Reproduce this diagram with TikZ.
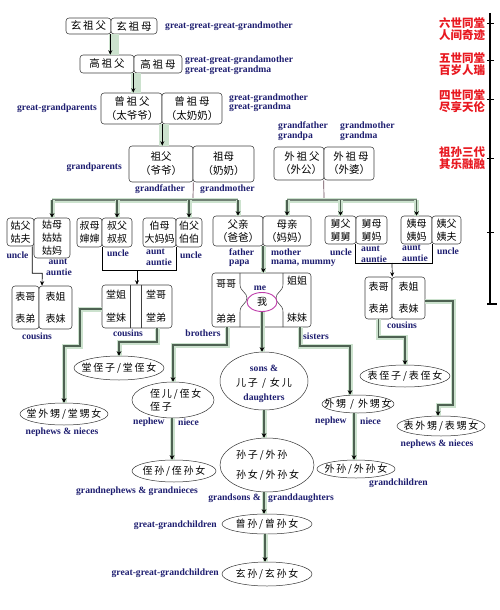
\documentclass[tikz,border=0pt]{standalone}
\usepackage{fontspec}
\setmainfont{Liberation Serif}
\newfontfamily\cjk{Noto Sans CJK SC}
\newfontfamily\cjkw{Noto Sans CJK SC}[LetterSpace=18]
\usetikzlibrary{arrows.meta,shapes.geometric}
\definecolor{navy}{RGB}{30,30,112}
\definecolor{redlbl}{RGB}{232,24,32}
\definecolor{band}{RGB}{204,226,206}
\definecolor{connc}{RGB}{78,98,82}
\definecolor{meoval}{RGB}{190,60,170}
\tikzset{
  box/.style={draw=black!75, rounded corners=3pt, line width=0.55pt, fill=white, inner sep=0pt, align=center},
  oval/.style={draw=black!80, ellipse, line width=0.5pt, inner sep=0pt},
  en/.style={font=\bfseries\fontsize{9.6}{10}\selectfont, text=navy, inner sep=0pt},
  zh/.style={font=\cjk\fontsize{10}{13}\selectfont, inner sep=0pt, align=center},
  zhw/.style={font=\cjkw\fontsize{10.5}{13}\selectfont, inner sep=0pt, align=center},
  zhe/.style={font=\cjkw\fontsize{10}{13}\selectfont, inner sep=0pt},
  rd/.style={font=\cjk\bfseries\fontsize{11.5}{10.5}\selectfont, text=redlbl, inner sep=0pt, align=center},
  tip/.style={-{Stealth[length=4.5pt,width=4pt]}},
  thinc/.style={draw=black, line width=0.7pt},
  thinarr/.style={thinc, tip},
  bandline/.style={draw=band, line width=10pt},
  conn/.style={draw=connc, line width=1.7pt, preaction={draw=band, line width=5pt, -}, -{Stealth[length=4.5pt,width=4.5pt,color=black]}},
  bar/.style={draw=connc!80, line width=2.2pt, preaction={draw=band, line width=5pt}},
}
\begin{document}
\begin{tikzpicture}[x=1pt,y=-1pt]
\useasboundingbox (0,0) rectangle (499,610);

% ---------- ancestors ----------
\node[box, zhw, minimum width=45pt, minimum height=16pt] (xzf) at (88.5,26) {玄祖父};
\node[box, zhw, minimum width=46pt, minimum height=16pt] (xzm) at (134,26) {玄祖母};
\node[box, zhw, minimum width=54pt, minimum height=18pt] (gzf) at (107,64) {高祖父};
\node[box, zhw, minimum width=48pt, minimum height=18pt] (gzm) at (158,64) {高祖母};
\node[box, minimum width=61pt, minimum height=31pt] (czf) at (131.5,108.5) {};
\node[zhw] (czft) at (132,101) {曾祖父};
\node[zh, font=\cjk\fontsize{10.5}{13}\selectfont] (czfp) at (132,116) {（太爷爷）};
\node[box, minimum width=60pt, minimum height=31pt] (czm) at (192,108.5) {};
\node[zhw] (czmt) at (192,101) {曾祖母};
\node[zh, font=\cjk\fontsize{10.5}{13}\selectfont] (czmp) at (192,116) {（太奶奶）};
\node[box, font=\cjk\fontsize{10.5}{14}\selectfont, minimum width=64pt, minimum height=36pt] (zf) at (161,164) {祖父\\（爷爷）};
\node[box, font=\cjk\fontsize{10.5}{14}\selectfont, minimum width=61pt, minimum height=36pt] (zm) at (223.5,164) {祖母\\（奶奶）};
\node[box, minimum width=50pt, minimum height=33pt] (wzf) at (299,163.5) {};
\node[zhw] (wzft) at (302,157) {外祖父};
\node[zh, font=\cjk\fontsize{10.5}{13}\selectfont] (wzfp) at (301,170) {（外公）};
\node[box, minimum width=50pt, minimum height=33pt] (wzm) at (349,163.5) {};
\node[zhw] (wzmt) at (351,157) {外祖母};
\node[zh, font=\cjk\fontsize{10.5}{13}\selectfont] (wzmp) at (349,170) {（外婆）};

% ---------- parents' generation ----------
\node[box, zh, minimum width=27pt, minimum height=28pt] (gf) at (20.5,232) {姑父\\姑夫};
\node[box, zh, minimum width=36pt, minimum height=40pt] (gm) at (52,238) {姑母\\姑姑\\姑妈};
\node[box, zh, minimum width=25pt, minimum height=29pt] (sm) at (89.5,232.5) {叔母\\婶婶};
\node[box, zh, minimum width=30pt, minimum height=29pt] (sf) at (117,232.5) {叔父\\叔叔};
\node[box, zh, minimum width=33pt, minimum height=29pt] (bm) at (159.5,232.5) {伯母\\大妈妈};
\node[box, zh, minimum width=26pt, minimum height=29pt] (bf) at (189,232.5) {伯父\\伯伯};
\node[box, font=\cjk\fontsize{10.5}{13}\selectfont, minimum width=50pt, minimum height=30pt] (fq) at (238,231) {父亲\\（爸爸）};
\node[box, font=\cjk\fontsize{10.5}{13}\selectfont, minimum width=48pt, minimum height=30pt] (mq) at (287,231) {母亲\\（妈妈）};
\node[box, zh, minimum width=31pt, minimum height=28pt] (jf) at (340.5,230) {舅父\\舅舅};
\node[box, zh, minimum width=31pt, minimum height=28pt] (jm) at (371.5,230) {舅母\\舅妈};
\node[box, zh, minimum width=31pt, minimum height=28pt] (ym) at (416.5,230) {姨母\\姨妈};
\node[box, zh, minimum width=29pt, minimum height=28pt] (yf) at (446.5,230) {姨父\\姨夫};

% ---------- own generation ----------
\node[box, zh, font=\cjk\fontsize{10}{22}\selectfont, minimum width=27pt, minimum height=43pt] (bgx) at (25.5,307.5) {表哥\\表弟};
\node[box, zh, font=\cjk\fontsize{10}{22}\selectfont, minimum width=33pt, minimum height=43pt] (bjx) at (55.5,307.5) {表姐\\表妹};
\node[box, minimum width=70pt, minimum height=43pt] (tang) at (137,306.5) {};
\draw[black!75, line width=0.55pt] (130,285) -- (130,328) (141,285) -- (141,328);
\node[zh, font=\cjk\fontsize{10}{23}\selectfont] (tj) at (116,306.5) {堂姐\\堂妹};
\node[zh, font=\cjk\fontsize{10}{23}\selectfont] (tg) at (156,306.5) {堂哥\\堂弟};
\node[box, minimum width=99pt, minimum height=54pt] (mebox) at (261.5,300) {};
\draw[black!75, line width=0.55pt] (240,273) -- (240,284) .. controls (240,292) and (247,292) .. (247,298) .. controls (247,304) and (240,304) .. (240,312) -- (240,327);
\draw[black!75, line width=0.55pt] (283,273) -- (283,284) .. controls (283,292) and (276,292) .. (276,298) .. controls (276,304) and (283,304) .. (283,312) -- (283,327);
\node[zh] (gg) at (226,284) {哥哥};
\node[zh] (dd) at (226,319) {弟弟};
\node[zh] (jj) at (297,281) {姐姐};
\node[zh] (mm) at (297,318) {妹妹};
\node[oval, draw=meoval, line width=0.9pt, minimum width=30pt, minimum height=19pt] (me) at (262,302) {};
\node[zh] (wo) at (me) {我};
\node[box, zh, font=\cjk\fontsize{10}{22}\selectfont, minimum width=27pt, minimum height=42pt] (bg2) at (378.5,298) {表哥\\表弟};
\node[box, zh, font=\cjk\fontsize{10}{22}\selectfont, minimum width=33pt, minimum height=42pt] (bj2) at (408.5,298) {表姐\\表妹};

% ---------- descendants ----------
\node[oval, minimum width=90pt, minimum height=24pt] (tzz) at (119,368) {};
\node[zhe] (tzzt) at (tzz) {堂侄子/堂侄女};
\node[oval, minimum width=88pt, minimum height=22pt] (txs) at (64,414) {};
\node[zhe] (txst) at (txs) {堂外甥/堂甥女};
\node[oval, minimum width=82pt, minimum height=36pt] (zr) at (173,400) {};
\node[zhe, anchor=west, align=left, font=\cjkw\fontsize{10}{13}\selectfont] (zrt) at (150,400) {侄儿/侄女\\侄子};
\node[oval, minimum width=88pt, minimum height=58pt] (sd) at (264,381) {};
\node[zhe] (sdt) at (264,383) {儿子 / 女儿};
\node[oval, minimum width=72pt, minimum height=18pt] (wsh) at (358,404) {};
\node[zhe] (wsht) at (wsh) {外甥 / 外甥女};
\node[oval, minimum width=90pt, minimum height=22pt] (btz) at (405,376) {};
\node[zhe] (btzt) at (btz) {表侄子/表侄女};
\node[oval, minimum width=88pt, minimum height=20pt] (bws) at (441,426) {};
\node[zhe] (bwst) at (bws) {表外甥/表甥女};
\node[oval, minimum width=84pt, minimum height=22pt] (zs) at (174,471) {};
\node[zhe] (zst) at (zs) {侄孙/侄孙女};
\node[oval, minimum width=94pt, minimum height=54pt] (sz) at (267,465) {};
\node[zhe, anchor=west, align=left, font=\cjkw\fontsize{10}{20}\selectfont] (szt) at (236,465) {孙子/外孙\\孙女/外孙女};
\node[oval, minimum width=78pt, minimum height=18pt] (wsn) at (356,469) {};
\node[zhe] (wsnt) at (wsn) {外孙/外孙女};
\node[oval, minimum width=90pt, minimum height=20pt] (cs) at (267,524) {};
\node[zhe] (cst) at (cs) {曾孙/曾孙女};
\node[oval, minimum width=90pt, minimum height=24pt] (xs) at (267,574) {};
\node[zhe] (xst) at (xs) {玄孙/玄孙女};

% ---------- English labels ----------
\node[en, anchor=west] (e1) at (165,26) {great-great-great-grandmother};
\node[en, anchor=west] (e2) at (185,60) {great-great-grandamother};
\node[en, anchor=west] (e3) at (185,70) {great-great-grandma};
\node[en, anchor=east] (e4) at (97,108) {great-grandparents};
\node[en, anchor=west] (e5) at (229,98) {great-grandmother};
\node[en, anchor=west] (e6) at (229,107) {great-grandma};
\node[en, anchor=east] (e7) at (122,167) {grandparents};
\node[en] (e8) at (160,189) {grandfather};
\node[en, anchor=west] (e9) at (200,189) {grandmother};
\node[en, anchor=west] (e10) at (278,126) {grandfather};
\node[en, anchor=west] (e11) at (278,136) {grandpa};
\node[en, anchor=west] (e12) at (340,126) {grandmother};
\node[en, anchor=west] (e13) at (340,136) {grandma};
\node[en] (e14) at (17.5,255) {uncle};
\node[en] (e15) at (58,262) {aunt};
\node[en] (e16) at (59,272) {auntie};
\node[en] (e17) at (118,253) {uncle};
\node[en, anchor=west] (e18) at (146,251.5) {aunt};
\node[en, anchor=west] (e19) at (146,262) {auntie};
\node[en] (e20) at (191,255) {uncle};
\node[en, anchor=west] (e21) at (229,252.5) {father};
\node[en, anchor=west] (e22) at (229,263) {papa};
\node[en, anchor=west] (e23) at (271,252.5) {mother};
\node[en, anchor=west] (e24) at (271,263) {mama, mummy};
\node[en] (e25) at (341,252) {uncle};
\node[en, anchor=west] (e26) at (361,248.5) {aunt};
\node[en, anchor=west] (e27) at (361,259) {auntie};
\node[en, anchor=west] (e28) at (402,248) {aunt};
\node[en, anchor=west] (e29) at (402,258.5) {auntie};
\node[en] (e30) at (448,251) {uncle};
\node[en] (e31) at (37,336) {cousins};
\node[en] (e32) at (128,333) {cousins};
\node[en] (e33) at (402,325) {cousins};
\node[en] (e34) at (260,288) {me};
\node[en] (e35) at (203,333) {brothers};
\node[en, anchor=west] (e36) at (303,336) {sisters};
\node[en] (e37) at (62,432) {nephews \& nieces};
\node[en, anchor=west] (e38) at (133,422) {nephew};
\node[en, anchor=west] (e39) at (178,422) {niece};
\node[en] (e40) at (264,368) {sons \&};
\node[en] (e41) at (264,398) {daughters};
\node[en, anchor=west] (e42) at (315,421) {nephew};
\node[en, anchor=west] (e43) at (360,421) {niece};
\node[en] (e44) at (437,444) {nephews \& nieces};
\node[en] (e45) at (137,491) {grandnephews \& grandnieces};
\node[en, anchor=west] (e46) at (369,483) {grandchildren};
\node[en, anchor=east] (e47) at (261,498) {grandsons \&};
\node[en, anchor=west] (e48) at (268,498) {granddaughters};
\node[en, anchor=east] (e49) at (217,525) {great-grandchildren};
\node[en, anchor=east] (e50) at (219,573) {great-great-grandchildren};

% ---------- generation scale ----------
\node[rd] (r1) at (462,29) {六世同堂\\人间奇迹};
\node[rd] (r2) at (462,64) {五世同堂\\百岁人瑞};
\node[rd] (r3) at (462,101) {四世同堂\\尽享天伦};
\node[rd] (r4) at (462,158) {祖孙三代\\其乐融融};
\coordinate (st) at (490,13);
\coordinate (sb) at (490,304);
\draw[line width=1.2pt] (st) -- (sb);
\foreach \t in {24,61,99,158,232} \draw[line width=1pt] (487,\t) -- (494,\t);
\draw[line width=1.2pt] (487,304) -- (497,304);

% ---------- connectors: ancestors ----------
\draw[bandline] ([xshift=3pt]xzf.south east) -- ([xshift=3pt]xzf.south east |- gzf.north);
\draw[thinarr] ([xshift=-1pt]xzf.south east) -- ([xshift=-1pt]xzf.south east |- gzf.north);
\draw[bandline] ([xshift=2pt]gzf.south east) -- ([xshift=2pt]gzf.south east |- czf.north);
\draw[thinarr] ([xshift=-1pt]gzf.south east) -- ([xshift=-1pt]gzf.south east |- czf.north);
\draw[bandline] ([xshift=2pt]czf.south east) -- ([xshift=2pt]czf.south east |- zf.north);
\draw[thinarr] (czf.south east) -- (czf.south east |- zf.north);

% paternal line
\coordinate (pb) at (193,200);
\draw[thinc, draw=black!70!magenta] (zf.south east) -- (pb);
\draw[bar] (gm.north |- pb) -- (fq.north |- pb);
\draw[conn] (gm.north |- pb) -- (gm.north);
\draw[conn] (sf.north |- pb) -- (sf.north);
\draw[conn] (bf.north |- pb) -- (bf.north);
\draw[conn] (fq.north |- pb) -- (fq.north);

% maternal line
\coordinate (mb) at (324,200);
\draw[thinc, draw=black!70!magenta] (wzm.south west) -- (mb);
\draw[bar] (mq.north |- mb) -- (ym.north |- mb);
\draw[conn] (mq.north |- mb) -- (mq.north);
\draw[conn] (jf.north |- mb) -- (jf.north);
\draw[conn] (ym.north |- mb) -- (ym.north);

% uncles and aunts to cousins
\draw[thinarr] ([xshift=-2pt]gf.south east) |- ++(10,27) -- ([xshift=-13.5pt]bjx.north);
\coordinate (tb) at (137,270);
\draw[thinc] (sm.south east) -- ++(0,23) -| (bm.south east);
\draw[thinarr] (tb) -- (tang.north);
\coordinate (bb) at (392,263);
\draw[thinc] (jm.south west) -- ++(0,19) -| (ym.south east);
\draw[thinarr] (bb) -- (bg2.north east);
\draw[conn] (fq.south east) -- (fq.south east |- mebox.north);

% ---------- connectors: descendants ----------
\draw[conn] ([yshift=-2.5pt]tang.west) -| (80,346) -| (txs.north);
\draw[conn] ([xshift=20pt]tang.south) -- ++(0,14) -| (tzz.north);
\draw[conn] ([xshift=-34.5pt]mebox.south) -- ++(0,18) -| (zr.north);
\draw[conn] (me.south) -- (me.south |- sd.north);
\draw[conn] ([xshift=38.5pt]mebox.south) -- ++(0,19) -| ([xshift=-8pt]wsh.north);
\draw[conn] (bg2.south) -- ++(0,18) -| (btz.north);
\draw[conn] ([yshift=-3pt]bj2.east) -| (453,405) -| ([xshift=-3pt]bws.north);
\draw[conn] ([xshift=-1pt]zr.south) -- ([xshift=-1pt]zr.south |- zs.north);
\draw[conn] (sd.south) -- (sd.south |- sz.north);
\draw[conn] ([xshift=-4pt]wsh.south) -- ([xshift=-4pt]wsh.south |- wsn.north);
\draw[conn, line width=1.4pt] ([xshift=-3pt]sz.south) -- ([xshift=-3pt]sz.south |- cs.north);
\draw[conn] ([xshift=-2pt]cs.south) -- ([xshift=-2pt]cs.south |- xs.north);
\end{tikzpicture}
\end{document}
